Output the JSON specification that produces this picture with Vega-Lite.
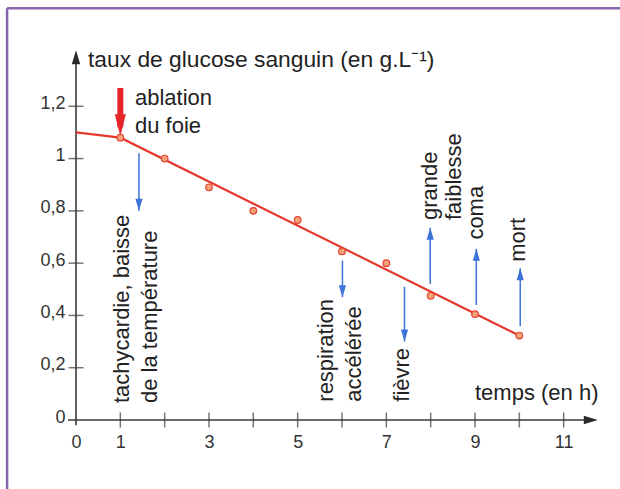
{
  "$schema": "https://vega.github.io/schema/vega-lite/v6.json",
  "width": 532,
  "height": 366,
  "autosize": "none",
  "padding": {"left": 76, "top": 54, "right": 12, "bottom": 69},
  "background": "white",
  "config": {"view": {"stroke": null}, "font": "Liberation Sans"},
  "datasets": {
    "cadre": [
      {"x": -1.554, "x2": -1.554, "y": 1.575, "y2": -0.6},
      {"x": -1.554, "x2": 13, "y": 1.575, "y2": 1.575}
    ],
    "axes": [
      {"x": -0.18, "x2": 11.6, "y": 0, "y2": 0},
      {"x": 0, "x2": 0, "y": -0.02, "y2": 1.38}
    ],
    "fleche_x": [{"x": 11.77, "y": 0}],
    "fleche_y": [{"x": 0, "y": 1.414}],
    "xticks": [
      {"x": 1, "y": 0}, {"x": 2, "y": 0}, {"x": 3, "y": 0}, {"x": 4, "y": 0},
      {"x": 5, "y": 0}, {"x": 6, "y": 0}, {"x": 7, "y": 0}, {"x": 8, "y": 0},
      {"x": 9, "y": 0}, {"x": 10, "y": 0}, {"x": 11, "y": 0}
    ],
    "yticks": [
      {"x": 0, "y": 0.2}, {"x": 0, "y": 0.4}, {"x": 0, "y": 0.6},
      {"x": 0, "y": 0.8}, {"x": 0, "y": 1.0}, {"x": 0, "y": 1.2}
    ],
    "courbe": [
      {"x": 0, "y": 1.1},
      {"x": 1, "y": 1.08},
      {"x": 10, "y": 0.323}
    ],
    "mesures": [
      {"x": 1, "y": 1.08},
      {"x": 2, "y": 1.0},
      {"x": 3, "y": 0.89},
      {"x": 4, "y": 0.8},
      {"x": 5, "y": 0.765},
      {"x": 6, "y": 0.645},
      {"x": 7, "y": 0.6},
      {"x": 8, "y": 0.475},
      {"x": 9, "y": 0.405},
      {"x": 10, "y": 0.323}
    ],
    "fleches": [
      {"x": 1.42, "y": 1.02, "y2": 0.8, "dir": "bas"},
      {"x": 6.01, "y": 0.61, "y2": 0.47, "dir": "bas"},
      {"x": 7.41, "y": 0.51, "y2": 0.3, "dir": "bas"},
      {"x": 7.99, "y": 0.52, "y2": 0.735, "dir": "haut"},
      {"x": 9.03, "y": 0.44, "y2": 0.655, "dir": "haut"},
      {"x": 10.02, "y": 0.36, "y2": 0.58, "dir": "haut"}
    ],
    "ablation": [
      {"x": 1, "y": 1.27, "y2": 1.12, "tip": 1.085}
    ],
    "titre": [
      {"txt": "taux de glucose sanguin (en g.L⁻¹)", "x": 0.27, "y": 1.35}
    ],
    "horiz": [
      {"txt": "ablation", "x": 1.33, "y": 1.205},
      {"txt": "du foie", "x": 1.33, "y": 1.098},
      {"txt": "temps (en h)", "x": 9.0, "y": 0.078}
    ],
    "vert": [
      {"txt": "tachycardie, baisse", "x": 1.2, "y": 0.065},
      {"txt": "de la température", "x": 1.83, "y": 0.065},
      {"txt": "respiration", "x": 5.8, "y": 0.07},
      {"txt": "accélérée", "x": 6.43, "y": 0.07},
      {"txt": "fièvre", "x": 7.52, "y": 0.07},
      {"txt": "grande", "x": 8.14, "y": 0.765},
      {"txt": "faiblesse", "x": 8.69, "y": 0.765},
      {"txt": "coma", "x": 9.18, "y": 0.69},
      {"txt": "mort", "x": 10.13, "y": 0.605}
    ]
  },
  "encoding": {
    "x": {
      "field": "x", "type": "quantitative",
      "scale": {"domain": [0, 12], "nice": false, "zero": false},
      "axis": {
        "values": [0, 1, 3, 5, 7, 9, 11], "domain": false, "ticks": false, "grid": false,
        "title": null, "labelFontSize": 18, "labelColor": "#333333", "labelPadding": 13,
        "labelFlush": false, "labelOverlap": false
      }
    },
    "y": {
      "field": "y", "type": "quantitative",
      "scale": {"domain": [0, 1.4], "nice": false, "zero": false},
      "axis": {
        "values": [0, 0.2, 0.4, 0.6, 0.8, 1, 1.2], "format": ".1~f",
        "labelExpr": "replace(datum.label, '.', ',')",
        "domain": false, "ticks": false, "grid": false, "title": null,
        "labelFontSize": 18, "labelColor": "#333333", "labelPadding": 11,
        "labelOffset": -3, "labelFlush": false, "labelOverlap": false
      }
    }
  },
  "layer": [
    {
      "data": {"name": "cadre"},
      "mark": {"type": "rule", "color": "#8566a9", "strokeWidth": 2.5},
      "encoding": {"x2": {"field": "x2"}, "y2": {"field": "y2"}}
    },
    {
      "data": {"name": "axes"},
      "mark": {"type": "rule", "color": "#3a3a3a", "strokeWidth": 1.6},
      "encoding": {"x2": {"field": "x2"}, "y2": {"field": "y2"}}
    },
    {
      "data": {"name": "fleche_x"},
      "mark": {"type": "point", "filled": true, "opacity": 1, "size": 49, "color": "#2a2a2a", "shape": "M-4,-1.2L0,0L-4,1.2Z"}
    },
    {
      "data": {"name": "fleche_y"},
      "mark": {"type": "point", "filled": true, "opacity": 1, "size": 49, "color": "#2a2a2a", "shape": "M-1.2,4L0,0L1.2,4Z"}
    },
    {
      "data": {"name": "xticks"},
      "mark": {"type": "tick", "orient": "vertical", "size": 15, "thickness": 1.5, "color": "#3a3a3a"}
    },
    {
      "data": {"name": "yticks"},
      "mark": {"type": "tick", "orient": "horizontal", "size": 15, "thickness": 1.5, "color": "#3a3a3a"}
    },
    {
      "data": {"name": "courbe"},
      "mark": {"type": "line", "color": "#e43a2e", "strokeWidth": 2.2}
    },
    {
      "data": {"name": "fleches"},
      "mark": {"type": "rule", "color": "#3d72d8", "strokeWidth": 1.5},
      "encoding": {"y2": {"field": "y2"}}
    },
    {
      "data": {"name": "fleches"},
      "transform": [{"filter": "datum.dir === 'bas'"}],
      "mark": {"type": "point", "filled": true, "opacity": 1, "size": 36, "color": "#3d72d8", "shape": "M-1.2,-4L1.2,-4L0,0Z"},
      "encoding": {"y": {"field": "y2", "type": "quantitative"}}
    },
    {
      "data": {"name": "fleches"},
      "transform": [{"filter": "datum.dir === 'haut'"}],
      "mark": {"type": "point", "filled": true, "opacity": 1, "size": 36, "color": "#3d72d8", "shape": "M-1.2,4L1.2,4L0,0Z"},
      "encoding": {"y": {"field": "y2", "type": "quantitative"}}
    },
    {
      "data": {"name": "ablation"},
      "mark": {"type": "rule", "color": "#e4262a", "strokeWidth": 6},
      "encoding": {"y2": {"field": "y2"}}
    },
    {
      "data": {"name": "ablation"},
      "mark": {"type": "point", "filled": true, "opacity": 1, "size": 121, "color": "#e4262a", "shape": "M-1,-4L1,-4L0,0Z"},
      "encoding": {"y": {"field": "tip", "type": "quantitative"}}
    },
    {
      "data": {"name": "mesures"},
      "mark": {"type": "point", "shape": "circle", "filled": true, "opacity": 1, "size": 44, "fill": "#f6a37a", "stroke": "#e0452f", "strokeWidth": 1.2}
    },
    {
      "data": {"name": "titre"},
      "mark": {"type": "text", "align": "left", "baseline": "alphabetic", "fontSize": 22.8, "color": "#222222", "font": "Liberation Sans"},
      "encoding": {"text": {"field": "txt"}}
    },
    {
      "data": {"name": "horiz"},
      "mark": {"type": "text", "align": "left", "baseline": "alphabetic", "fontSize": 22, "color": "#222222", "font": "Liberation Sans"},
      "encoding": {"text": {"field": "txt"}}
    },
    {
      "data": {"name": "vert"},
      "mark": {"type": "text", "align": "left", "baseline": "alphabetic", "angle": 270, "fontSize": 22, "color": "#222222", "font": "Liberation Sans"},
      "encoding": {"text": {"field": "txt"}}
    }
  ]
}
